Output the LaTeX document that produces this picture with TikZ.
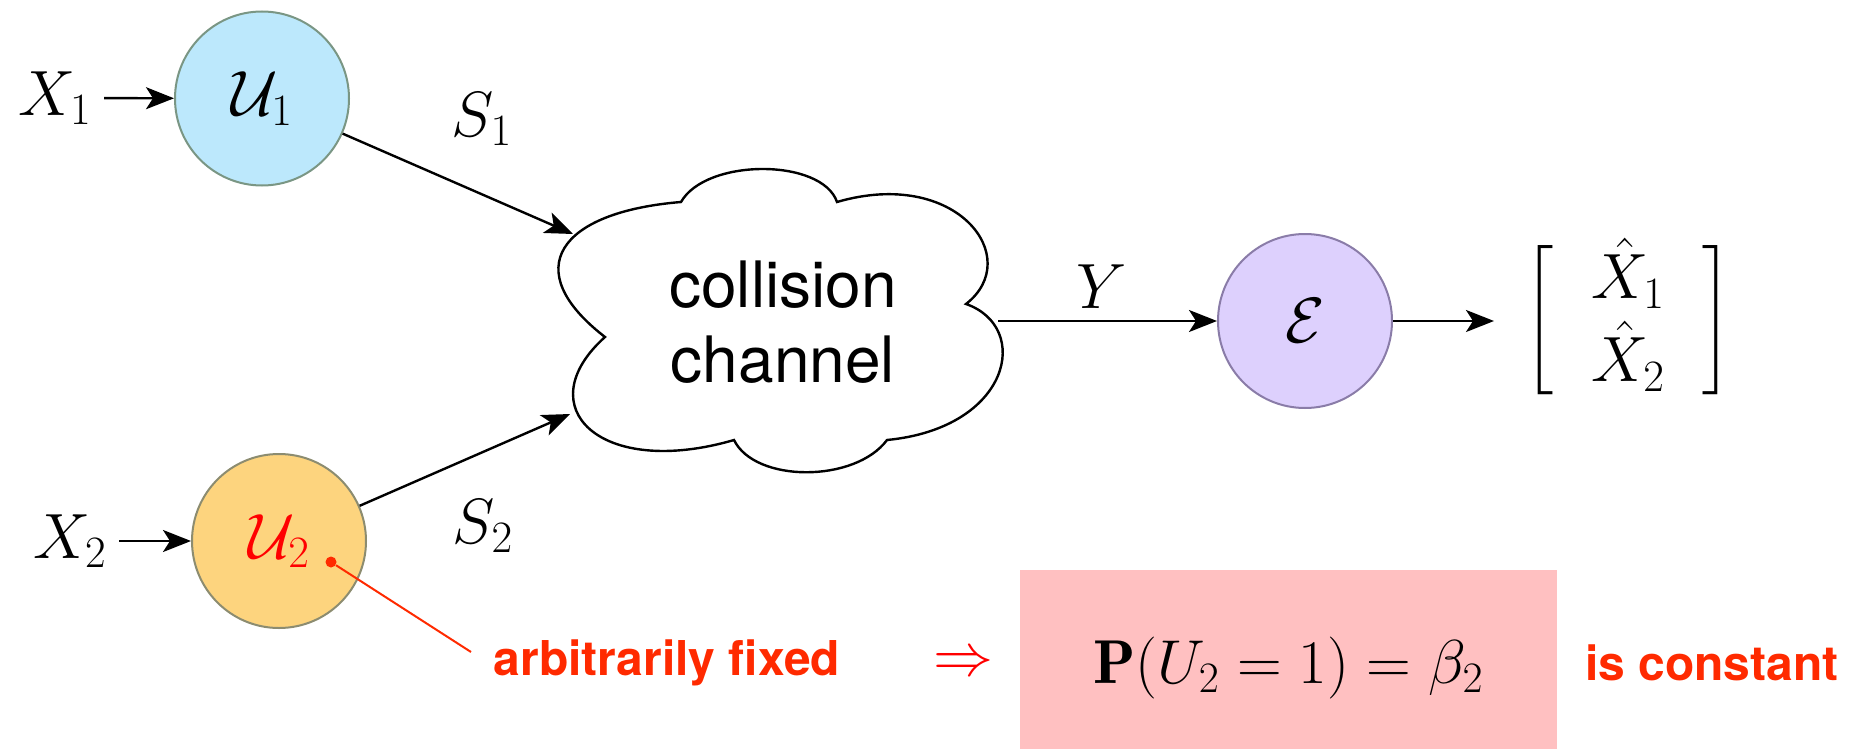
\documentclass[tikz,border=0pt]{standalone}
\usepackage{fix-cm}
\usepackage{exscale}
\usepackage{fontspec}
\newfontfamily\helv{TeX Gyre Heros}
\usetikzlibrary{arrows.meta}
\definecolor{ublue}{RGB}{188,232,252}
\definecolor{ubluedraw}{RGB}{122,150,132}
\definecolor{uorange}{RGB}{253,212,126}
\definecolor{uorangedraw}{RGB}{140,140,112}
\definecolor{upurple}{RGB}{221,208,253}
\definecolor{upurpledraw}{RGB}{138,124,168}
\definecolor{boxpink}{RGB}{255,192,193}
\definecolor{annred}{RGB}{255,42,0}
\definecolor{pured}{RGB}{255,0,0}
\begin{document}
\begin{tikzpicture}[x=0.5pt,y=-0.5pt,
  mathfont/.style={font=\fontsize{32}{38}\selectfont},
  unit/.style={circle, minimum size=87pt, inner sep=0pt, line width=1pt, mathfont},
  lbl/.style={inner sep=6pt, mathfont},
  arr/.style={line width=1.2pt, -{Stealth[length=14pt,width=11pt,inset=3.5pt]}},
  sanslbl/.style={font=\helv\bfseries\fontsize{24}{28}\selectfont, text=annred},
  cloudline/.style={line width=1.2pt, line join=miter},
]
\useasboundingbox (0,0) rectangle (1851,749);

% units
\node[unit, fill=ublue, draw=ubluedraw] (U1) at (262,98.5) {$\mathcal{U}_1$};
\node[unit, fill=uorange, draw=uorangedraw, text=pured] (U2) at (279,541) {$\mathcal{U}_2$};
\node[unit, fill=upurple, draw=upurpledraw] (E) at (1305,321) {$\mathcal{E}$};

% labels
\node[lbl] (X1) at (55,98) {$X_1$};
\node[lbl] (X2) at (70,541) {$X_2$};
\node[mathfont, anchor=base] (S1) at (482,136) {$S_1$};
\node[mathfont, anchor=base] (S2) at (483,543) {$S_2$};
\node[mathfont, anchor=base] (Ylab) at (1102,308) {$Y$};

% cloud
\draw[cloudline] (681,202)
  .. controls (706,158) and (822,158) .. (837,202)
  .. controls (957,167) and (1025,258) .. (966,304)
  .. controls (1032,327) and (1011,428) .. (887,440)
  .. controls (855,483) and (755,483) .. (734,440)
  .. controls (600,479) and (527,407) .. (605,337)
  .. controls (517.5,269.5) and (559,212) .. (681,202)
  -- cycle;
\node[font=\helv\fontsize{32}{37.5}\selectfont, align=center] (ch) at (783,322) {collision\\channel};
\coordinate (c1) at (573,234);
\coordinate (c2) at (570,414);
\coordinate (c3) at (998,321);
\coordinate (mtip) at (1494,321);

% output
\node[mathfont, inner sep=0pt] (M) at (1628,320) {\renewcommand{\arraystretch}{0.9}$\left[\vrule height 46pt depth 30pt width 0pt\smash{\begin{array}{@{\hspace{19pt}}c@{\hspace{19pt}}}\hat{X}_1\\[1pt]\hat{X}_2\end{array}}\right]$};

% connectors
\draw[arr] (X1) -- (U1);
\draw[arr] (X2) -- (U2);
\draw[arr] (U1) -- (c1);
\draw[arr] (U2) -- (c2);
\draw[arr] (c3) -- (E);
\draw[arr] (E) -- (mtip);

% annotation
\node[circle, fill=annred, inner sep=0pt, minimum size=5.5pt] (dot) at (331,562) {};
\coordinate (annend) at (471,652);
\draw[annred, line width=1pt] (dot) -- (annend);
\node[sanslbl, anchor=base] (fixed) at (667,675) {arbitrarily fixed};
\node[font=\fontsize{30}{36}\selectfont, text=pured, anchor=base] (impl) at (963,675) {$\Rightarrow$};
\node[fill=boxpink, minimum width=268.5pt, minimum height=89.5pt, text height=35pt, text depth=11.5pt, inner sep=0pt, font=\fontsize{31}{37}\selectfont] (P) at (1288.5,659.5) {$\mathbf{P}(U_2=1)=\beta_2$};
\node[sanslbl, anchor=base] (const) at (1712,680) {is constant};
\end{tikzpicture}
\end{document}
